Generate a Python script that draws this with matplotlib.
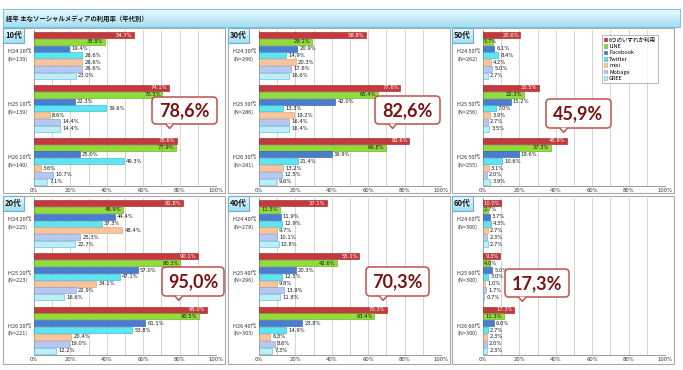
import matplotlib
matplotlib.use("Agg")
import matplotlib.pyplot as plt
import numpy as np
from matplotlib.patches import Rectangle, FancyBboxPatch, Polygon, Patch
import matplotlib.transforms as mtransforms

plt.rcParams['font.family'] = ['Noto Sans CJK JP', 'DejaVu Sans']

# ---- data ----
series = ["6つのいずれか利用", "LINE", "Facebook", "Twitter", "mixi", "Mobage", "GREE"]
ages = ["10代", "30代", "50代", "20代", "40代", "60代"]
years = ["H24", "H25", "H26"]
sample_n = {
    "10代": [139, 139, 140],
    "30代": [296, 286, 281],
    "50代": [262, 256, 255],
    "20代": [225, 223, 221],
    "40代": [278, 296, 303],
    "60代": [300, 300, 300],
}
values = {
    "10代": [[54.7, 38.8, 19.4, 26.6, 26.6, 26.6, 23.0],
             [74.1, 70.5, 22.3, 39.6, 8.6, 14.4, 14.4],
             [78.6, 77.9, 25.0, 49.3, 3.6, 10.7, 7.1]],
    "30代": [[58.8, 29.1, 20.9, 14.9, 20.3, 17.6, 16.6],
             [77.6, 65.4, 42.0, 13.3, 19.2, 16.4, 16.4],
             [82.6, 69.8, 39.9, 21.4, 13.2, 12.5, 9.6]],
    "50代": [[20.6, 5.7, 6.1, 8.4, 4.2, 5.0, 2.7],
             [30.5, 22.3, 15.2, 7.0, 3.9, 2.7, 3.5],
             [45.9, 37.3, 19.6, 10.6, 3.1, 2.0, 3.9]],
    "20代": [[81.8, 48.9, 44.4, 37.3, 48.4, 25.3, 22.7],
             [90.1, 80.3, 57.0, 47.1, 34.1, 22.9, 16.6],
             [95.0, 90.5, 61.1, 53.8, 20.4, 19.0, 12.2]],
    "40代": [[37.1, 11.5, 11.9, 12.9, 9.7, 10.1, 10.8],
             [55.1, 42.6, 20.3, 12.5, 9.8, 13.9, 11.8],
             [70.3, 63.4, 23.8, 14.9, 6.3, 8.6, 7.3]],
    "60代": [[10.0, 2.7, 3.7, 4.3, 2.7, 2.3, 2.7],
             [9.3, 4.0, 5.0, 3.0, 1.0, 1.7, 0.7],
             [17.3, 11.3, 6.0, 2.7, 2.3, 2.0, 2.3]],
}
callouts = {"10代": "78,6%", "30代": "82,6%", "50代": "45,9%",
            "20代": "95,0%", "40代": "70,3%", "60代": "17,3%"}

colors = ["#C4393B", "#8FDC3A", "#4A7CCF", "#5FE4F2", "#F8C49C", "#B6C9F2", "#BDEEF8"]
edges = ["#8E2022", "#5E9E1E", "#2E58A0", "#2BAFC2", "#D89866", "#7F98CC", "#52B8D4"]

W, H = 683, 370
fig = plt.figure(figsize=(W / 100, H / 100), dpi=100)


def frac(x0, y0, x1, y1):
    return [x0 / W, 1 - y1 / H, (x1 - x0) / W, (y1 - y0) / H]


col_x = [34, 259, 483]
row_y = [(30, 186), (198, 355)]
panel_x = [(3, 225), (228, 450), (452, 674)]
panel_y = [(28, 193), (196, 364)]
# callout boxes (x0, y0, x1, y1) in pixels
call_box = {"10代": (152, 97, 217, 124), "30代": (375, 96, 440, 124),
            "50代": (546, 99, 611, 128), "20代": (162, 267, 224, 296),
            "40代": (366, 267, 429, 296), "60代": (505, 269, 569, 297)}

gap = 7.8
axes = {}
for k, age in enumerate(ages):
    r, c = divmod(k, 3)
    ax = fig.add_axes(frac(col_x[c], row_y[r][0], col_x[c] + 182, row_y[r][1]))
    axes[age] = ax
    for g in range(3):
        for i in range(7):
            v = values[age][g][i]
            y = g * gap + i
            ax.barh(y, v, height=0.88, color=colors[i], edgecolor=edges[i], linewidth=0.4, zorder=3)
            lab = f"{v:.1f}%"
            if i in (0, 1):
                tc = "white" if i == 0 else "#1A1A1A"
                if v < 8:
                    ax.text(0.6, y, lab, ha="left", va="center", fontsize=3.8, color=tc, zorder=4,
                            family="DejaVu Sans")
                else:
                    ax.text(v - 0.8, y, lab, ha="right", va="center", fontsize=3.8, color=tc, zorder=4,
                            family="DejaVu Sans")
            else:
                ax.text(v + 1.2, y, lab, ha="left", va="center", fontsize=3.8, color="#1A1A1A", zorder=4,
                        family="DejaVu Sans")
    ax.set_xlim(0, 100)
    ax.set_ylim(2 * gap + 6 + 0.65, -0.75)
    ax.set_xticks(np.arange(0, 101, 20))
    ax.set_xticks(np.arange(0, 101, 10), minor=True)
    ax.set_xticklabels([f"{t}%" for t in range(0, 101, 20)], fontsize=3.8, family="DejaVu Sans")
    ax.tick_params(axis="x", which="both", length=0, pad=1.5, colors="#333333")
    ax.set_yticks([])
    ax.xaxis.grid(True, which="both", color="#D4D4D4", linewidth=0.7)
    ax.set_axisbelow(True)
    for s in ("top", "right"):
        ax.spines[s].set_visible(False)
    for s in ("left", "bottom"):
        ax.spines[s].set_color("#9A9A9A")
        ax.spines[s].set_linewidth(0.7)
    # group labels on the left
    tr = mtransforms.blended_transform_factory(fig.transFigure, ax.transData)
    for g in range(3):
        yc = g * gap + 3
        ax.text((panel_x[c][0] + 5) / W, yc, f"{years[g]} {age}\n(N={sample_n[age][g]})",
                transform=tr, ha="left", va="center", fontsize=4.0, color="#333333",
                linespacing=1.5, clip_on=False)

# legend in 50代 panel
handles = [Patch(facecolor=colors[i], edgecolor=edges[i], linewidth=0.4) for i in range(7)]
leg = axes["50代"].legend(handles, series, loc="upper left",
                          bbox_to_anchor=(599 / W, 1 - 32 / H), bbox_transform=fig.transFigure,
                          fontsize=4.0, handlelength=0.6, handleheight=0.6, handletextpad=0.3,
                          labelspacing=0.25, borderpad=0.4, frameon=True, fancybox=False)
leg.get_frame().set_edgecolor("#9A9A9A")
leg.get_frame().set_linewidth(0.6)

# overlay in pixel coordinates
ov = fig.add_axes([0, 0, 1, 1], zorder=10)
ov.set_xlim(0, W)
ov.set_ylim(H, 0)
ov.axis("off")
ov.patch.set_alpha(0)

# title bar with vertical gradient
grad = np.linspace(0, 1, 50).reshape(-1, 1)
top_c = np.array([0.93, 0.98, 1.0])
bot_c = np.array([0.64, 0.87, 0.95])
img = top_c + (bot_c - top_c) * grad[:, :, None]
ov.imshow(img, extent=(3, 680, 27, 9), aspect="auto", zorder=1)
ov.add_patch(Rectangle((3, 9), 677, 18, fill=False, edgecolor="#7CC4DE", linewidth=0.8, zorder=2))
ov.text(6, 18.5, "経年 主なソーシャルメディアの利用率（年代別）", fontsize=4.6, fontweight="bold",
        color="#1A1A1A", ha="left", va="center", zorder=3)

for k, age in enumerate(ages):
    r, c = divmod(k, 3)
    x0, x1 = panel_x[c]
    y0, y1 = panel_y[r]
    ov.add_patch(Rectangle((x0, y0), x1 - x0, y1 - y0, fill=False, edgecolor="#A8A8A8", linewidth=0.8))
    # age tag
    ov.imshow(img, extent=(x0, x0 + 21, y0 + 15, y0), aspect="auto", zorder=2)
    ov.add_patch(Rectangle((x0, y0), 21, 15, fill=False, edgecolor="#6FAFD0", linewidth=0.8, zorder=3))
    ov.text(x0 + 10.5, y0 + 7.8, age, fontsize=5.5, fontweight="bold", color="#1A1A1A",
            ha="center", va="center", zorder=4)
    # callout
    bx0, by0, bx1, by1 = call_box[age]
    ov.add_patch(FancyBboxPatch((bx0, by0), bx1 - bx0, by1 - by0,
                                boxstyle="round,pad=0,rounding_size=4",
                                facecolor="white", edgecolor="#C0504D", linewidth=1.1, zorder=5))
    px = bx0 + 0.27 * (bx1 - bx0)
    ov.add_patch(Polygon([(px - 4, by1 - 0.3), (px, by1 + 4.5), (px + 4, by1 - 0.3)], closed=False,
                         facecolor="white", edgecolor="#C0504D", linewidth=1.1, zorder=6))
    ov.text((bx0 + bx1) / 2, (by0 + by1) / 2 + 0.5, callouts[age], fontsize=13, color="#7A1414",
            family="Lato", fontweight="bold", ha="center", va="center", zorder=7)

# xlim fixed after imshow
ov.set_xlim(0, W)
ov.set_ylim(H, 0)

fig.savefig("out.png", dpi=100)
